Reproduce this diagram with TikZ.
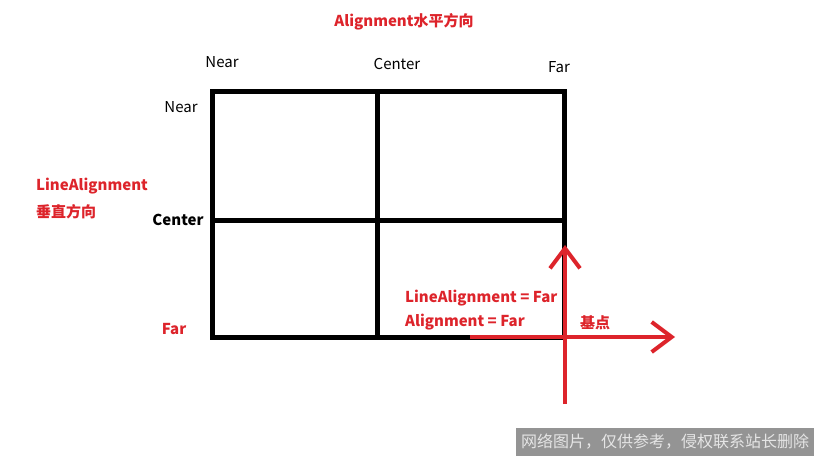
\documentclass[tikz,border=0pt]{standalone}
\usepackage{fontspec}
\setmainfont{Noto Sans CJK SC}
\usetikzlibrary{arrows.meta, positioning}
\definecolor{mred}{RGB}{221,36,43}
\begin{document}
\begin{tikzpicture}[x=1pt,y=-1pt,
    grid/.style={line width=5pt, black},
    lbl/.style={font=\fontsize{15}{17}\selectfont, inner sep=0pt},
    redlbl/.style={lbl, text=mred, font=\fontsize{15}{17}\selectfont\bfseries},
    axis/.style={line width=4pt, mred, -{Straight Barb[length=20pt,width=30pt,line width=4pt]}}]
    \useasboundingbox (0,0) rectangle (819,460);

    % grid
    \draw[grid] (212,91) rectangle (564,337);
    \draw[grid] (377,91) -- (377,340);
    \draw[grid] (212,220) -- (564,220);

    % labels
    \node[redlbl] (title) at (404,22) {Alignment水平方向};
    \node[lbl] (hnear) at (222,62) {Near};
    \node[lbl] (hcenter) at (397,64) {Center};
    \node[lbl] (hfar) at (559,67) {Far};
    \node[lbl] (vnear) at (181,107) {Near};
    \node[lbl, font=\fontsize{15}{17}\selectfont\bfseries] (vcenter) at (178,220) {Center};
    \node[redlbl] (vfar) at (174,329) {Far};
    \node[redlbl, anchor=west] (vname) at (36,186) {LineAlignment};
    \node[redlbl, anchor=west] (vdir) at (36,212) {垂直方向};
    \node[redlbl, anchor=west] (lafar) at (405,298) {LineAlignment = Far};
    \node[redlbl, anchor=west] (afar) at (405,322) {Alignment = Far};
    \node[redlbl] (base) at (595,323) {基点};

    % base point axes
    \coordinate (ybot) at (565,404);
    \coordinate (ytop) at (565,245);
    \coordinate (xleft) at (470,337);
    \coordinate (xright) at (675,337);
    \draw[axis] (ybot) -- (ytop);
    \draw[axis] (xleft) -- (xright);

    % watermark
    \fill[black!42] (516,428) rectangle (814,456);
    \node[lbl, font=\fontsize{16}{18}\selectfont, text=white!90!black] (mark) at (665,442) {网络图片，仅供参考，侵权联系站长删除};
\end{tikzpicture}
\end{document}
